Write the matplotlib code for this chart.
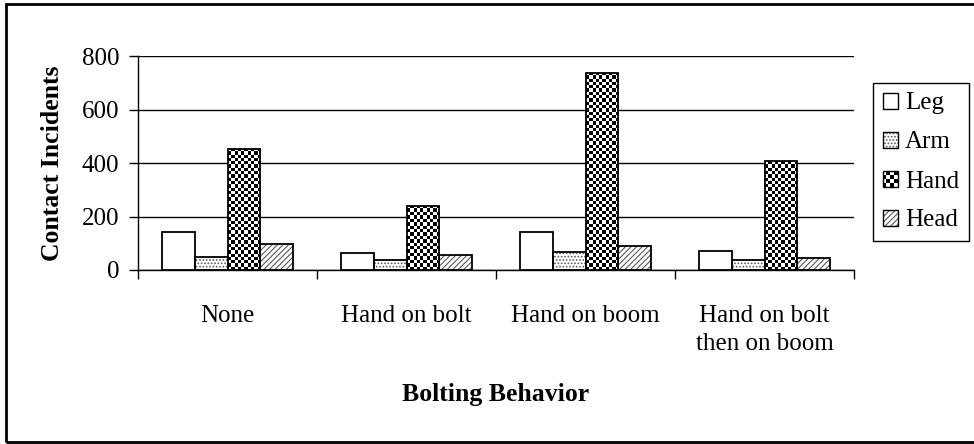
import matplotlib
matplotlib.use("Agg")
import matplotlib.pyplot as plt
import numpy as np
from matplotlib.patches import Patch, Rectangle
from matplotlib.legend_handler import HandlerBase, HandlerTuple

plt.rcParams['font.family'] = ['Liberation Serif', 'DejaVu Serif']
plt.rcParams['hatch.linewidth'] = 0.8

# data
behaviors = ["None", "Hand on bolt", "Hand on boom", "Hand on bolt\nthen on boom"]
parts = ["Leg", "Arm", "Hand", "Head"]
leg = [142, 65, 142, 70]
arm = [50, 37, 69, 37]
hand = [453, 240, 737, 406]
head = [97, 56, 90, 45]
yticks = [0, 200, 400, 600, 800]

W, H = 974, 444
fig = plt.figure(figsize=(W / 100, H / 100), dpi=100)
ax = fig.add_axes([138 / W, (H - 270) / H, 716 / W, 214 / H])

x = np.arange(len(behaviors))
bw = 0.183
offsets = (np.arange(4) - 1.5) * bw
ax.set_xlim(-0.5, len(behaviors) - 0.5)
ax.set_ylim(0, 800)

series = [leg, arm, hand, head]
hatches = [None, '.....', None, '//////']

for i, vals in enumerate(series):
    pos = x + offsets[i]
    if hatches[i]:
        ax.bar(pos, vals, bw, facecolor='white', edgecolor='0.35',
               hatch=hatches[i], linewidth=0, zorder=2)
    outline = ax.bar(pos, vals, bw, facecolor='white' if i == 0 else 'none',
                     edgecolor='black', linewidth=1.3, zorder=3)
    if parts[i] == "Hand":
        # checkerboard fill, clipped to each bar
        for rect, v in zip(outline, vals):
            x0 = rect.get_x()
            x1 = x0 + rect.get_width()
            p0 = ax.transData.transform((x0, 0))
            p1 = ax.transData.transform((x1, v))
            ncol = max(1, int(round((p1[0] - p0[0]) / 3.3)))
            nrow = max(1, int(round((p1[1] - p0[1]) / 3.3)))
            checker = (np.indices((nrow, ncol)).sum(axis=0) % 2).astype(float)
            im = ax.imshow(checker, cmap='gray_r', vmin=0, vmax=1,
                           extent=(x0, x1, 0, v), aspect='auto',
                           interpolation='nearest', zorder=2.5)
            im.set_clip_path(rect)

ax.set_xlim(-0.5, len(behaviors) - 0.5)
ax.set_ylim(0, 800)
ax.set_aspect('auto')

# axes styling
ax.set_yticks(yticks)
ax.yaxis.grid(True, color='black', linewidth=1.0)
ax.set_axisbelow(True)
for s in ['top', 'right']:
    ax.spines[s].set_visible(False)
for s in ['left', 'bottom']:
    ax.spines[s].set_linewidth(1.0)
ax.tick_params(axis='y', direction='out', length=6.5, width=1, pad=7, labelsize=18)
ax.set_xticks(x)
ax.set_xticklabels(behaviors, fontsize=18, linespacing=1.35, va='top')
ax.set_xticks(np.arange(-0.5, len(behaviors)), minor=True)
ax.tick_params(axis='x', which='major', length=0, pad=25)
ax.tick_params(axis='x', which='minor', direction='out', length=6.5, width=1)

fig.text(53 / W, 1 - 163 / H, "Contact Incidents", rotation=90, fontsize=18.5,
         fontweight='bold', ha='center', va='center')
fig.text(496 / W, 1 - 394 / H, "Bolting Behavior", fontsize=18.5,
         fontweight='bold', ha='center', va='center')


class CheckerHandler(HandlerBase):
    def create_artists(self, legend, orig_handle, xdescent, ydescent,
                       width, height, fontsize, trans):
        n = 4
        cw, ch = width / n, height / n
        arts = [Rectangle((-xdescent, -ydescent), width, height,
                          facecolor='white', edgecolor='none', transform=trans)]
        for i in range(n):
            for j in range(n):
                if (i + j) % 2 == 0:
                    arts.append(Rectangle((-xdescent + i * cw, -ydescent + j * ch),
                                          cw, ch, facecolor='black',
                                          edgecolor='none', transform=trans))
        arts.append(Rectangle((-xdescent, -ydescent), width, height,
                              facecolor='none', edgecolor='black', lw=1,
                              transform=trans))
        return arts


handles = [
    Patch(facecolor='white', edgecolor='black', linewidth=1),
    (Patch(facecolor='white', edgecolor='0.35', hatch='.....', linewidth=0),
     Patch(facecolor='none', edgecolor='black', linewidth=1)),
    Patch(facecolor='black'),
    (Patch(facecolor='white', edgecolor='0.35', hatch='//////', linewidth=0),
     Patch(facecolor='none', edgecolor='black', linewidth=1)),
]
leg_box = fig.legend(handles, parts, loc='upper left',
                     bbox_to_anchor=(873 / W, 1 - 83 / H),
                     fontsize=18, frameon=True, fancybox=False,
                     edgecolor='black', framealpha=1,
                     handlelength=0.6, handleheight=0.6, handletextpad=0.3,
                     labelspacing=0.68, borderpad=0.38, borderaxespad=0,
                     handler_map={tuple: HandlerTuple(ndivide=1),
                                  handles[2]: CheckerHandler()})
leg_box.get_frame().set_linewidth(1.0)

# outer chart frame (runs past the right edge)
fig.patches.append(Rectangle((6 / W, 2 / H), 1.05, 1 - 6 / H, transform=fig.transFigure,
                             facecolor='none', edgecolor='black', linewidth=2.0))

fig.savefig("out.png", dpi=100)
